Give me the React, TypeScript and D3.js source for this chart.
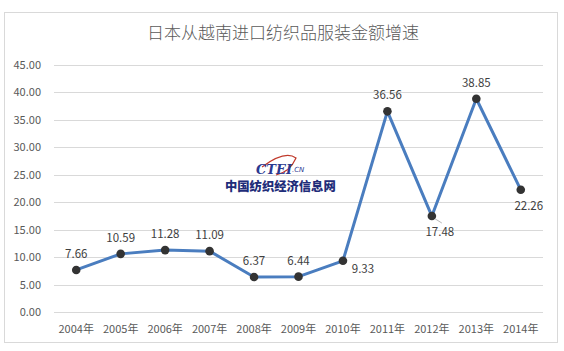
import { useEffect, useRef } from 'react';
import * as d3 from 'd3';

const TITLE = '日本从越南进口纺织品服装金额增速';
const YEARS = ['2004年', '2005年', '2006年', '2007年', '2008年', '2009年', '2010年', '2011年', '2012年', '2013年', '2014年'];
const GROWTH = [7.66, 10.59, 11.28, 11.09, 6.37, 6.44, 9.33, 36.56, 17.48, 38.85, 22.26];
// where each data label sits relative to its point
const LABEL_POS = ['above', 'above', 'above', 'above', 'above', 'above', 'right', 'above', 'below', 'above', 'below'];
const Y_TICKS = [0, 5, 10, 15, 20, 25, 30, 35, 40, 45];

const W = 564;
const H = 351;
const FONT = '"Noto Sans CJK SC", "Open Sans", sans-serif';

export default function App() {
  const svgRef = useRef<SVGSVGElement>(null);

  useEffect(() => {
    if (!svgRef.current) return;
    const svg = d3.select(svgRef.current);
    svg.selectAll('*').remove();

    const margin = { left: 54, right: 21, top: 65, bottom: 39 };

    svg.append('rect')
      .attr('x', 4.5).attr('y', 12.5).attr('width', 553).attr('height', 330)
      .attr('fill', '#fff').attr('stroke', '#d9d9d9');

    svg.append('text')
      .attr('x', 283).attr('y', 39)
      .attr('text-anchor', 'middle')
      .attr('font-family', FONT).attr('font-size', 17).attr('font-weight', 300)
      .attr('fill', '#595959')
      .text(TITLE);

    const x = d3.scaleBand<string>().domain(YEARS).range([margin.left, W - margin.right]);
    const y = d3.scaleLinear().domain([0, 45]).range([H - margin.bottom, margin.top]);

    const grid = svg.append('g');
    grid.selectAll('line').data(Y_TICKS).join('line')
      .attr('x1', margin.left).attr('x2', W - margin.right)
      .attr('y1', d => Math.round(y(d)) + 0.5).attr('y2', d => Math.round(y(d)) + 0.5)
      .attr('stroke', '#d9d9d9').attr('stroke-width', 1);

    grid.selectAll('text').data(Y_TICKS).join('text')
      .attr('x', 41).attr('y', d => y(d) + 4)
      .attr('text-anchor', 'end')
      .attr('font-family', FONT).attr('font-size', 11)
      .attr('fill', '#595959')
      .text(d => d.toFixed(2));

    svg.append('g').selectAll('text').data(YEARS).join('text')
      .attr('x', d => (x(d) ?? 0) + x.bandwidth() / 2)
      .attr('y', H - margin.bottom + 21)
      .attr('text-anchor', 'middle')
      .attr('font-family', FONT).attr('font-size', 11)
      .attr('fill', '#595959')
      .text(d => d);

    // watermark logo
    const logo = svg.append('g');
    logo.append('path')
      .attr('d', 'M262,167 Q285,150 296,158 Q290,172 276,175')
      .attr('fill', 'none').attr('stroke', '#c0392b').attr('stroke-width', 1.2);
    logo.append('text')
      .attr('x', 256).attr('y', 174)
      .attr('font-family', '"DejaVu Serif", serif').attr('font-size', 13)
      .attr('font-weight', 700).attr('font-style', 'italic')
      .attr('fill', '#2b3990')
      .text('CTEI');
    logo.append('text')
      .attr('x', 292).attr('y', 172)
      .attr('font-family', '"DejaVu Sans", sans-serif').attr('font-size', 7)
      .attr('font-style', 'italic')
      .attr('fill', '#2b3990')
      .text('.CN');
    logo.append('text')
      .attr('x', 225).attr('y', 191)
      .attr('font-family', FONT).attr('font-size', 12.3).attr('font-weight', 900)
      .attr('fill', '#1f2d7a')
      .text('中国纺织经济信息网');

    const pts = GROWTH.map((v, i) => ({ v, cx: (x(YEARS[i]) ?? 0) + x.bandwidth() / 2, cy: y(v), pos: LABEL_POS[i] }));

    const line = d3.line<{ cx: number; cy: number }>().x(d => d.cx).y(d => d.cy);
    svg.append('path')
      .datum(pts)
      .attr('d', line)
      .attr('fill', 'none')
      .attr('stroke', '#4a7dbf')
      .attr('stroke-width', 3)
      .attr('stroke-linejoin', 'round');

    // leader line for the 2012 label
    const p12 = pts[8];
    svg.append('line')
      .attr('x1', p12.cx + 2).attr('y1', p12.cy + 2)
      .attr('x2', p12.cx + 10).attr('y2', p12.cy + 7)
      .attr('stroke', '#a6a6a6').attr('stroke-width', 0.8);

    svg.append('g').selectAll('circle').data(pts).join('circle')
      .attr('cx', d => d.cx).attr('cy', d => d.cy).attr('r', 4.3)
      .attr('fill', '#333333');

    svg.append('g').selectAll('text').data(pts).join('text')
      .attr('x', d => d.pos === 'right' ? d.cx + 20 : d.pos === 'below' ? d.cx + 8 : d.cx)
      .attr('y', d => d.pos === 'above' ? d.cy - 12 : d.pos === 'right' ? d.cy + 12 : d.cy + 20)
      .attr('text-anchor', 'middle')
      .attr('font-family', FONT).attr('font-size', 11.5)
      .attr('fill', '#404040')
      .text(d => d.v.toFixed(2));
  }, []);

  return (
    <svg ref={svgRef} width={W} height={H} style={{ position: 'absolute', left: 0, top: 0 }} />
  );
}
